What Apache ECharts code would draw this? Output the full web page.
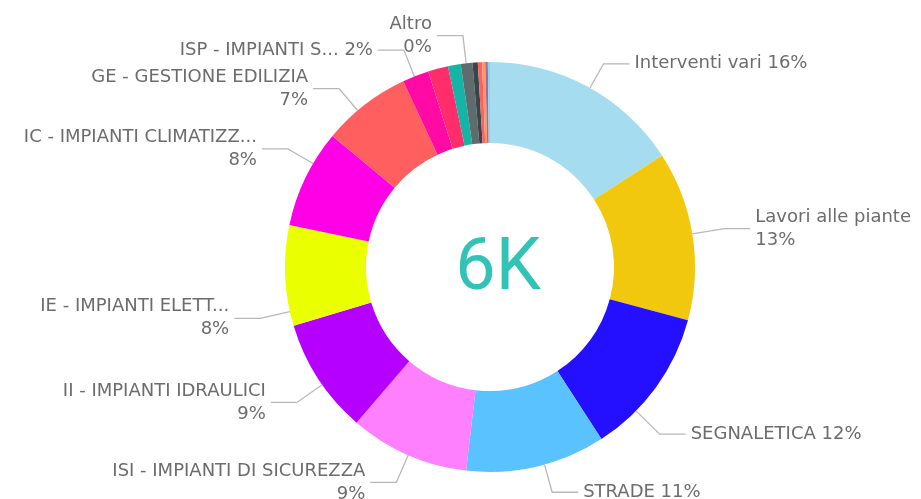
<!DOCTYPE html>
<html>
<head>
<meta charset="utf-8">
<script src="https://cdn.jsdelivr.net/npm/echarts@6/dist/echarts.min.js"></script>
<style>
  html, body { margin: 0; padding: 0; background: #fff; }
  #chart { width: 921px; height: 499px; }
</style>
</head>
<body>
<div id="chart"></div>
<script>
// categories, clockwise from 12 o'clock
var categories = [
  'Interventi vari', 'Lavori alle piante', 'SEGNALETICA', 'STRADE',
  'ISI - IMPIANTI DI SICUREZZA', 'II - IMPIANTI IDRAULICI', 'IE - IMPIANTI ELETT...',
  'IC - IMPIANTI CLIMATIZZ...', 'GE - GESTIONE EDILIZIA', 'ISP - IMPIANTI S...',
  'Altri 1', 'Altri 2', 'Altri 3', 'Altro', 'Altri 5', 'Altri 6', 'Altri 7', 'Altri 8'
];
var counts = [950, 800, 700, 660, 565, 545, 475, 465, 420, 125, 95, 60, 55, 25, 20, 15, 12, 10];
var colors = [
  '#a6dcef', '#f2c80f', '#2410ff', '#5ac2ff', '#ff80ff', '#b600ff', '#eaff00',
  '#ff00e6', '#ff5f5f', '#ff0aa4', '#ff2d6c', '#15b5a5', '#5f6b6d', '#374649',
  '#fd625e', '#fe9666', '#a66999', '#8ad4eb'
];
// which labels break onto two lines, which are hidden
var twoLine = [false, true, false, false, true, true, true, true, true, false, false, false, false, true, false, false, false, false];
var shown = [true, true, true, true, true, true, true, true, true, true, false, false, false, true, false, false, false, false];
var totalLabel = '6K';

var total = counts.reduce(function (a, b) { return a + b; }, 0);

var pieCenter = [490, 267];
var outerR = 205;

// small label nudges [dx, dy] to follow the original label placement
var nudge = {
  0: [8, -9], 1: [16, -4], 2: [-9, 37], 3: [12, 10], 4: [-5, 13], 5: [-12, 15],
  6: [-14, 42], 7: [-8, -22], 8: [9, -31], 9: [32, -33], 13: [-11, -11]
};

var chartDom = document.getElementById('chart');
var myChart = echarts.init(chartDom);
var option;

var data = categories.map(function (name, i) {
  return {
    name: name,
    value: counts[i],
    itemStyle: { color: colors[i] },
    label: { show: shown[i] },
    labelLine: { show: shown[i] }
  };
});

option = {
  animation: false,
  title: {
    text: totalLabel,
    left: 493,
    top: 230,
    textAlign: 'center',
    textStyle: {
      color: '#33c3b6',
      fontSize: 72,
      fontWeight: 'normal',
      fontFamily: 'Roboto'
    }
  },
  series: [
    {
      type: 'pie',
      center: pieCenter,
      radius: [124, outerR],
      startAngle: 90,
      clockwise: true,
      avoidLabelOverlap: true,
      label: {
        position: 'outside',
        color: '#6c6c6c',
        fontSize: 18,
        lineHeight: 23,
        fontFamily: 'DejaVu Sans',
        alignTo: 'none',
        formatter: function (p) {
          var pct = Math.round(p.value / total * 100) + '%';
          return p.name + (twoLine[p.dataIndex] ? '\n' : ' ') + pct;
        }
      },
      labelLine: {
        length: 16,
        length2: 26,
        lineStyle: { color: '#b8b8b8', width: 1.3 }
      },
      labelLayout: function (params) {
        var n = nudge[params.dataIndex];
        if (!n) return {};
        var out = { dx: n[0], dy: n[1] };
        var pts = params.labelLinePoints;
        if (pts && pts.length === 3) {
          var elbow = [pts[1][0] + n[0], pts[1][1] + n[1]];
          var vx = elbow[0] - pieCenter[0], vy = elbow[1] - pieCenter[1];
          var len = Math.sqrt(vx * vx + vy * vy);
          out.labelLinePoints = [
            [pieCenter[0] + vx / len * outerR, pieCenter[1] + vy / len * outerR],
            elbow,
            [pts[2][0] + n[0], pts[2][1] + n[1]]
          ];
        }
        return out;
      },
      itemStyle: { borderWidth: 0 },
      data: data
    }
  ]
};

option && myChart.setOption(option);
</script>
</body>
</html>
